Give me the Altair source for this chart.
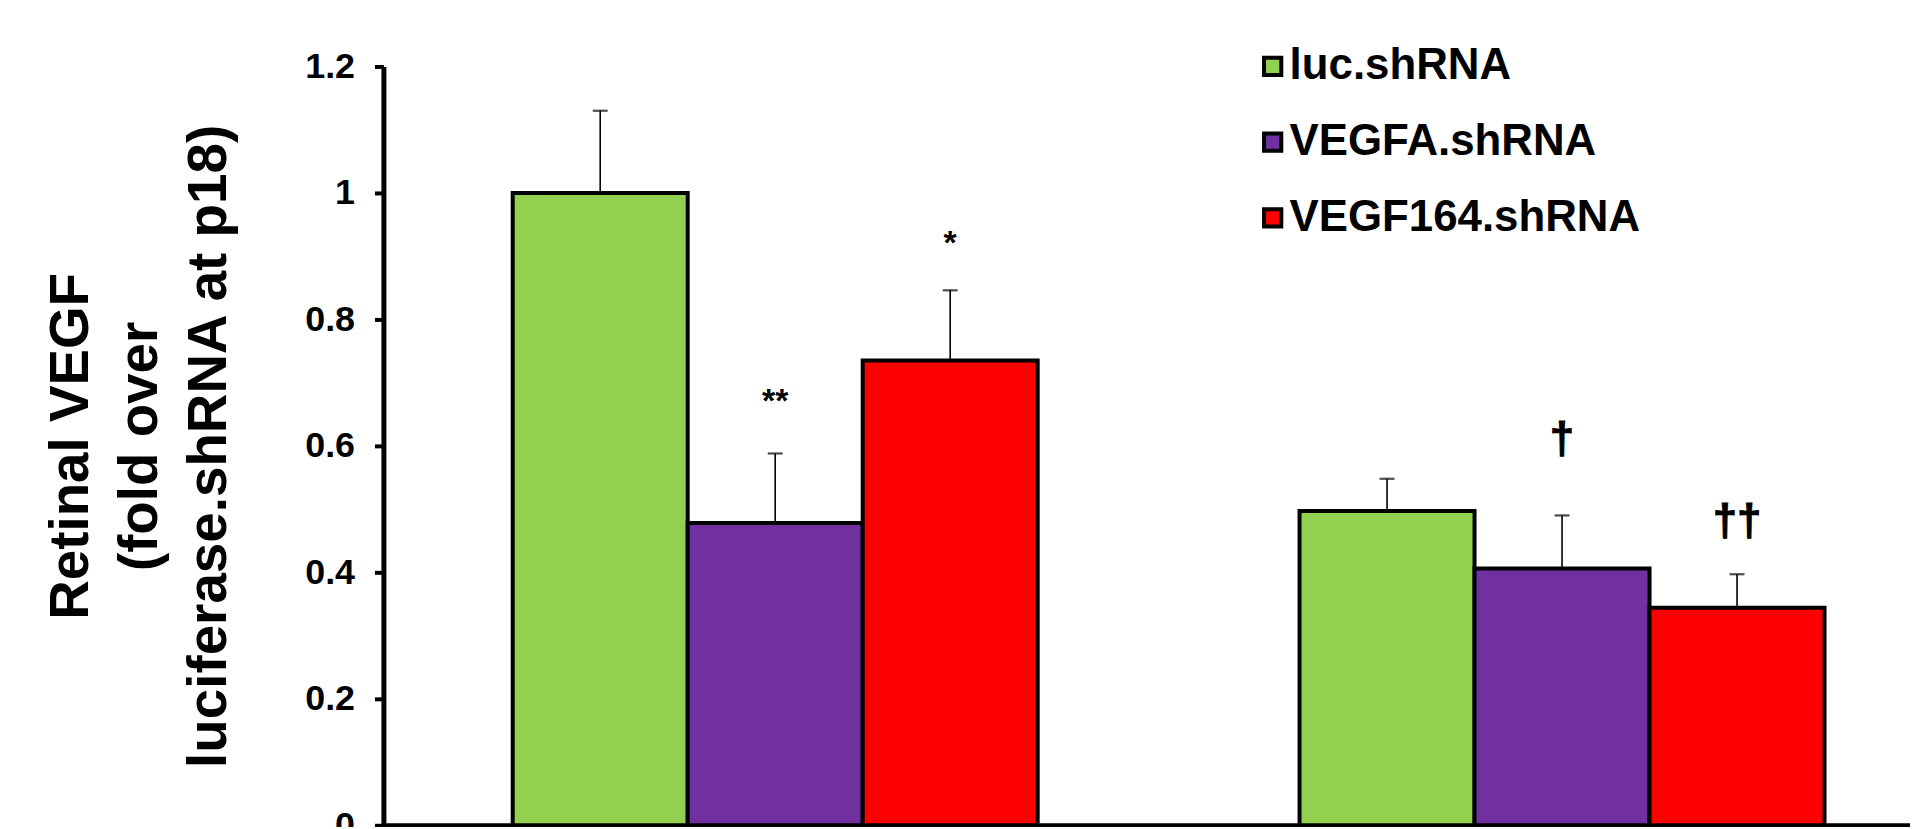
import altair as alt
import pandas as pd

groups = ["Group 1", "Group 2"]
series = ["luc.shRNA", "VEGFA.shRNA", "VEGF164.shRNA"]
colors = ["#92D050", "#7030A0", "#FF0000"]
means_g1 = [1.00, 0.478, 0.735]
means_g2 = [0.497, 0.406, 0.344]
errs_g1 = [0.130, 0.110, 0.111]
errs_g2 = [0.051, 0.084, 0.053]
sig_g1 = ["", "**", "*"]
sig_g2 = ["", "\u2020", "\u2020\u2020"]
sig_y_g1 = [0.0, 0.683, 0.933]
sig_y_g2 = [0.0, 0.610, 0.480]
y_ticks = [0, 0.2, 0.4, 0.6, 0.8, 1.0, 1.2]
y_title = ["Retinal VEGF", "(fold over", "luciferase.shRNA at p18)"]

rows = []
for g, means, errs, sigs, sy in [
    (groups[0], means_g1, errs_g1, sig_g1, sig_y_g1),
    (groups[1], means_g2, errs_g2, sig_g2, sig_y_g2),
]:
    for s, m, e, t, yy in zip(series, means, errs, sigs, sy):
        rows.append({"group": g, "series": s, "mean": m, "top": m + e,
                     "sig": t, "sig_y": yy,
                     "kind": "ast" if "*" in t else ("dag" if t else "none")})
df = pd.DataFrame(rows)

FONT = "Liberation Sans, Arial, sans-serif"

x_enc = alt.X("group:N", sort=groups,
              scale=alt.Scale(domain=groups, range=[0, 1577],
                              paddingInner=0.3328, paddingOuter=0.1643),
              title=None)
xo_enc = alt.XOffset("series:N", sort=series,
                     scale=alt.Scale(domain=series, paddingInner=0, paddingOuter=0))
yscale = alt.Scale(domain=[0, 1.2], nice=False, zero=True)

base = alt.Chart(df)

bars = base.mark_bar(stroke="black", strokeJoin="miter").encode(
    x=x_enc, xOffset=xo_enc,
    y=alt.Y("mean:Q", scale=yscale, title=y_title,
            axis=alt.Axis(values=y_ticks, format="~g")),
    color=alt.Color("series:N", sort=series,
                    scale=alt.Scale(domain=series, range=colors),
                    legend=alt.Legend(orient="none", legendX=871, legendY=-22,
                                      title=None, symbolType="square",
                                      symbolSize=300, symbolStrokeColor="black",
                                      symbolStrokeWidth=3, symbolOpacity=1,
                                      labelFont=FONT, labelFontSize=44,
                                      labelFontWeight="bold", labelColor="black",
                                      rowPadding=32, labelOffset={"expr": "-5"},
                                      labelLimit=600)),
    strokeWidth=alt.StrokeWidth("series:N", sort=series,
                                scale=alt.Scale(domain=series, range=[4, 4, 1.5]),
                                legend=None),
)

rules = base.mark_rule(color="black", strokeWidth=1.6).encode(
    x=x_enc, xOffset=xo_enc,
    y=alt.Y("mean:Q", scale=yscale, title=y_title),
    y2="top:Q",
)

caps = base.mark_tick(color="black", thickness=2.2, size=15, orient="horizontal").encode(
    x=x_enc, xOffset=xo_enc,
    y=alt.Y("top:Q", scale=yscale, title=y_title),
)

ast = base.transform_filter(alt.datum.kind == "ast").mark_text(
    font=FONT, fontWeight="bold", fontSize=34, color="black", baseline="middle", dy=9
).encode(
    x=x_enc, xOffset=xo_enc,
    y=alt.Y("sig_y:Q", scale=yscale, title=y_title),
    text="sig:N",
)

dag = base.transform_filter(alt.datum.kind == "dag").mark_text(
    font=FONT, fontWeight="bold", fontSize=44, color="black", baseline="middle",
    stroke="black", strokeWidth=1
).encode(
    x=x_enc, xOffset=xo_enc,
    y=alt.Y("sig_y:Q", scale=yscale, title=y_title),
    text="sig:N",
)

chart = alt.layer(bars, rules, caps, ast, dag).properties(
    width=1533, height=762,
    padding={"left": 377, "top": 57, "right": 0, "bottom": 0},
    autosize=alt.AutoSizeParams(type="none"),
).configure_view(stroke=None).configure_axisX(
    labels=False, ticks=False, domainColor="black", domainWidth=5, grid=False, title=None
).configure_axisY(
    domainColor="black", domainWidth=5, tickColor="black", tickWidth=4, tickSize=9,
    labelFont=FONT, labelFontSize=36, labelFontWeight="bold", labelColor="black",
    labelPadding=20, grid=False,
    titleFont=FONT, titleFontSize=55, titleFontWeight="bold", titleColor="black",
    titleLineHeight=69, titlePadding=68,
)

chart.save("out.html", embed_options={"renderer": "svg", "actions": False})
